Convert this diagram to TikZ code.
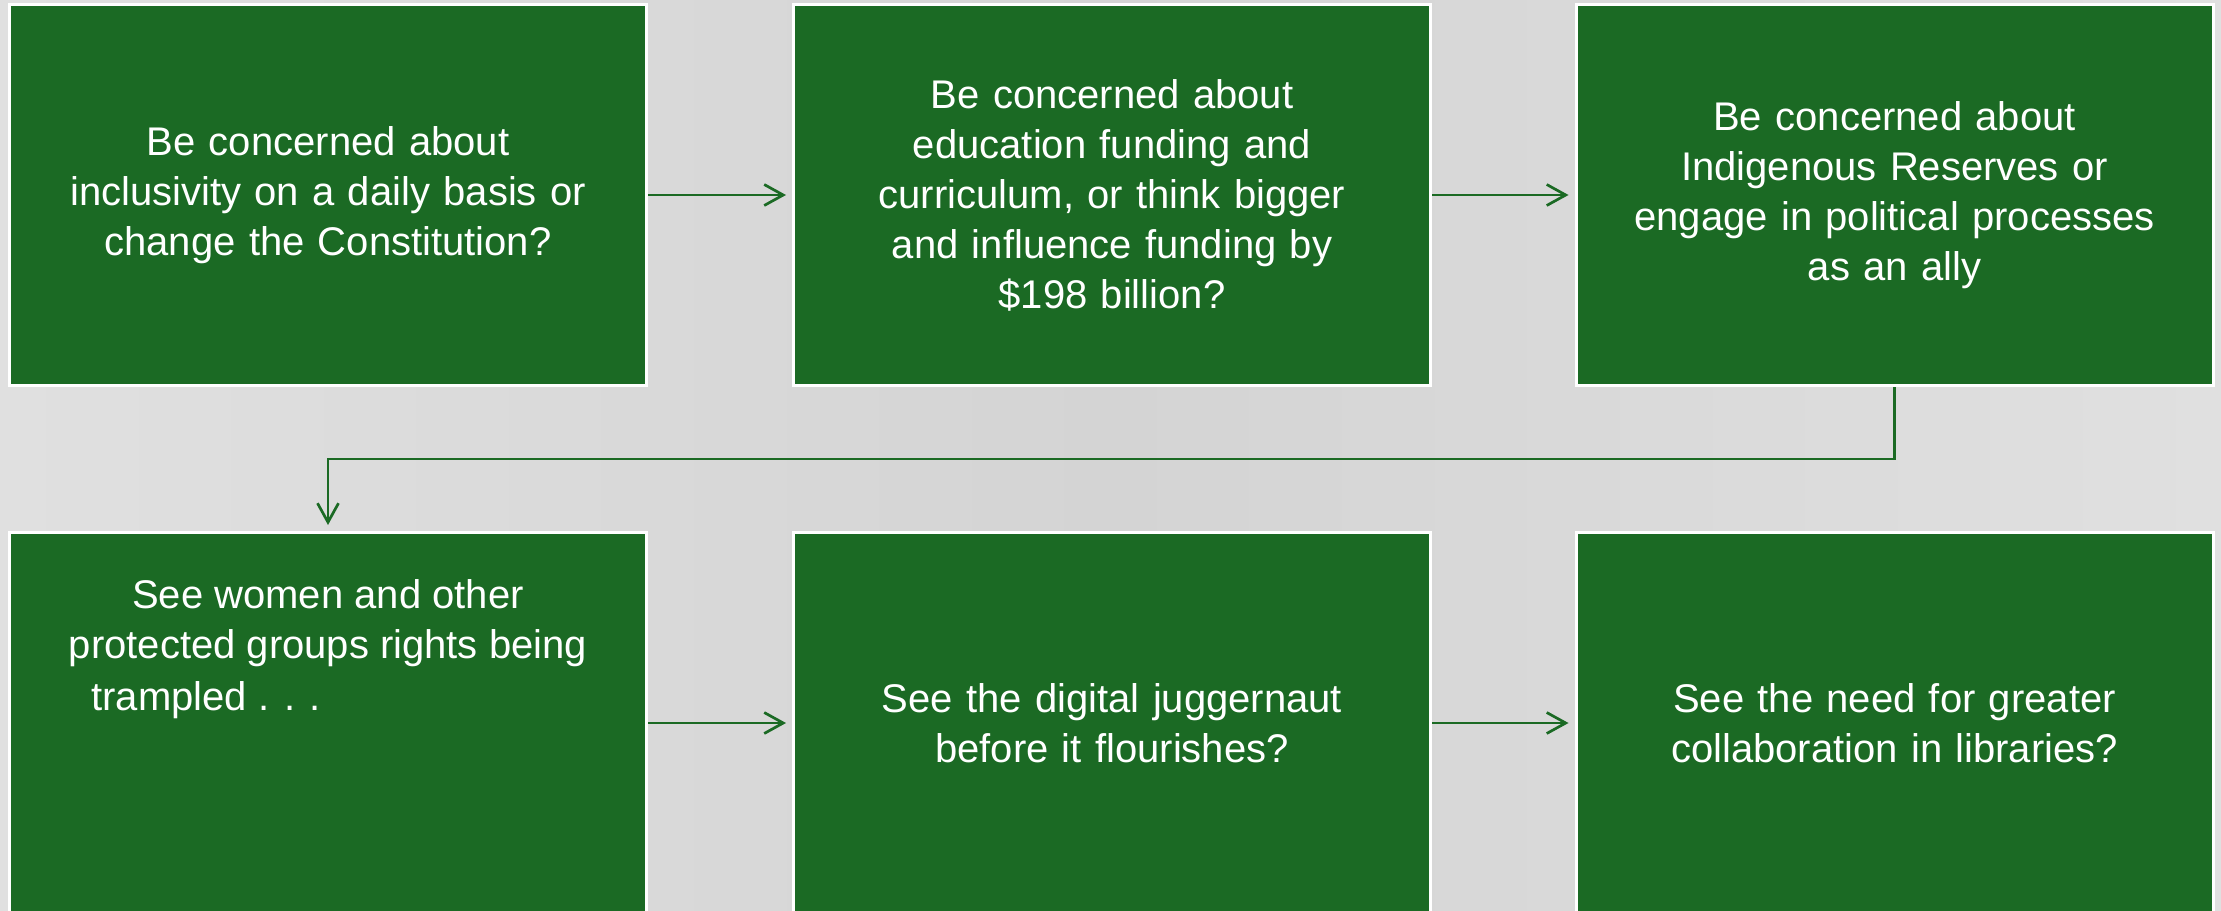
\documentclass[tikz,border=0pt]{standalone}
\usepackage{fontspec}
\setmainfont{Liberation Sans}
\usetikzlibrary{arrows.meta}
\definecolor{boxgreen}{HTML}{1B6A24}
\definecolor{bgA}{HTML}{E0E0E0}
\definecolor{bgB}{HTML}{D4D4D4}
\tikzset{
  px/.style={x=0.5pt,y=-0.5pt},
  boxfont/.style={font=\fontsize{20pt}{25pt}\selectfont},
  stepbox/.style={draw=white, line width=1.5pt, fill=boxgreen, text=white,
    minimum width=318.5pt, minimum height=190.5pt, inner sep=0pt,
    text width=300pt, align=center, boxfont},
  flow/.style={draw=boxgreen, line width=1.35pt,
    -{Straight Barb[length=9.5pt,width=10.5pt,line width=1.35pt]}},
}
\begin{document}
\begin{tikzpicture}[px]
\useasboundingbox (0,0) rectangle (2221,910);
\shade[left color=bgA, right color=bgB] (0,0) rectangle (1110,910);
\shade[left color=bgB, right color=bgA] (1110,0) rectangle (2221,910);
\node[stepbox] (b1) at (328,195) {Be concerned about\\inclusivity on a daily basis or\\change the Constitution?};
\node[stepbox] (b2) at (1112,195) {Be concerned about\\education funding and\\curriculum, or think bigger\\and influence funding by\\\$198 billion?};
\node[stepbox] (b3) at (1894.5,195) {Be concerned about\\Indigenous Reserves or\\engage in political processes\\as an ally};
\node[stepbox] (b4) at (328,723) {};
\node[stepbox] (b5) at (1112,723) {See the digital juggernaut\\before it flourishes?};
\node[stepbox] (b6) at (1894.5,723) {See the need for greater\\collaboration in libraries?};
\node[text=white, boxfont, align=center, anchor=base, inner sep=0pt] (t4) at (328,658) {See women and other\\protected groups rights being};
\node[text=white, boxfont, anchor=base west, inner sep=0pt] (t4b) at (91,710) {trampled . . .};
\coordinate (elb) at (0,459);
\draw[flow, shorten >=3pt] (b1.east) -- (b2.west);
\draw[flow, shorten >=3pt] (b2.east) -- (b3.west);
\draw[flow, shorten >=3pt] (b4.east) -- (b5.west);
\draw[flow, shorten >=3pt] (b5.east) -- (b6.west);
\draw[flow, shorten >=3pt] (b3.south) -- (b3.south |- elb) -- (b4.north |- elb) -- (b4.north);
\end{tikzpicture}
\end{document}
